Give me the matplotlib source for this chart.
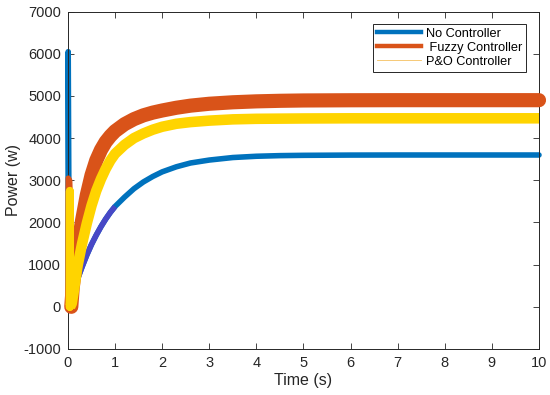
import numpy as np
import matplotlib
matplotlib.use("Agg")
import matplotlib.pyplot as plt
from matplotlib.lines import Line2D

plt.rcParams['font.family'] = ['Liberation Sans', 'DejaVu Sans']
plt.rcParams['axes.unicode_minus'] = False

# values (time in s, power in W)
no_ctrl_t = [0, 0.005, 0.03, 0.08, 0.12, 0.2, 0.3, 0.4, 0.5, 0.6, 0.7, 0.8, 0.9,
             1.0, 1.2, 1.4, 1.6, 1.8, 2.0, 2.3, 2.6, 3.0, 3.5, 4.0, 4.5, 5.0,
             6.0, 7.0, 10.0]
no_ctrl_p = [0, 6050, 0, 200, 380, 650, 950, 1230, 1480, 1700, 1900, 2080, 2240,
             2380, 2600, 2800, 2960, 3090, 3200, 3320, 3410, 3480, 3540, 3570,
             3585, 3592, 3598, 3600, 3600]

fuzzy_t = [0, 0.005, 0.035, 0.04, 0.06, 0.07, 0.1, 0.15, 0.2, 0.25, 0.3, 0.4,
           0.5, 0.6, 0.7, 0.8, 0.9, 1.0, 1.2, 1.4, 1.6, 1.8, 2.0, 2.3, 2.6, 3.0,
           3.5, 4.0, 4.5, 5.0, 6.0, 7.0, 10.0]
fuzzy_p = [0, 3050, 3000, 2800, 2750, 0, 450, 900, 1320, 1700, 2050, 2650,
           3120, 3470, 3720, 3910, 4050, 4165, 4330, 4450, 4540, 4605, 4655,
           4720, 4770, 4815, 4850, 4872, 4885, 4893, 4898, 4900, 4900]
fuzzy_rise = 5  # index where the thick rippled band starts

po_t = [0.035, 0.04, 0.045, 0.08, 0.12, 0.2, 0.3, 0.4, 0.5, 0.6, 0.7, 0.8, 0.9,
        1.0, 1.2, 1.4, 1.6, 1.8, 2.0, 2.3, 2.6, 3.0, 3.5, 4.0, 5.0, 6.0, 10.0]
po_p = [0, 2750, 0, 80, 350, 950, 1500, 1980, 2400, 2750, 3030, 3270, 3470,
        3630, 3840, 4000, 4110, 4200, 4270, 4340, 4380, 4415, 4445, 4458,
        4466, 4470, 4470]
po_rise = 2

labels = ['No Controller', ' Fuzzy Controller', 'P&O Controller']
x_ticks = list(range(0, 11))
y_ticks = list(range(-1000, 7001, 1000))

blue = '#0072BD'
orange = '#D95319'
yellow = '#FFD400'

fig = plt.figure(figsize=(5.5, 3.95), dpi=100)
ax = fig.add_axes([0.1236, 0.1165, 0.8564, 0.8541])

ax.plot(no_ctrl_t, no_ctrl_p, color=blue, lw=4.0, solid_capstyle='round',
        solid_joinstyle='round', clip_on=False, zorder=2)
# overlap artefact: the blue curve looks purple in its early rise
t_arr = np.array(no_ctrl_t)
seg = (t_arr >= 0.15) & (t_arr <= 1.0)
ax.plot(t_arr[seg], np.array(no_ctrl_p)[seg], color='#4848C6', lw=4.0,
        solid_capstyle='butt', solid_joinstyle='round', zorder=2.1)

# fuzzy: thin start-up spike, then the thick rippled band
ax.plot(fuzzy_t[:fuzzy_rise + 1], fuzzy_p[:fuzzy_rise + 1], color=orange, lw=4.0,
        solid_capstyle='butt', clip_on=False, zorder=3)
ax.plot(fuzzy_t[fuzzy_rise:], fuzzy_p[fuzzy_rise:], color=orange, lw=10.2,
        solid_capstyle='round', solid_joinstyle='round', clip_on=False, zorder=3)

ax.plot(po_t[:po_rise + 1], po_p[:po_rise + 1], color=yellow, lw=5.8,
        solid_capstyle='round', solid_joinstyle='round', clip_on=False, zorder=4)
ax.plot(po_t[po_rise:], po_p[po_rise:], color=yellow, lw=7.6,
        solid_capstyle='butt', solid_joinstyle='round', clip_on=False, zorder=4)

ax.set_xlim(0, 10)
ax.set_ylim(-1000, 7000)
ax.set_xticks(x_ticks)
ax.set_yticks(y_ticks)
ax.tick_params(direction='in', top=True, right=True, length=4, width=0.6,
               labelsize=10.5, colors='#262626', pad=5)
for sp in ax.spines.values():
    sp.set_linewidth(0.7)
    sp.set_color('#262626')
ax.set_xlabel('Time (s)', fontsize=11.5, color='#262626', labelpad=2)
ax.set_ylabel('Power (w)', fontsize=11.5, color='#262626', labelpad=2)

handles = [Line2D([], [], color=blue, lw=3.2),
           Line2D([], [], color=orange, lw=3.2),
           Line2D([], [], color='#F5C060', lw=0.6)]
leg = ax.legend(handles, labels, loc='upper right', bbox_to_anchor=(0.972, 0.963),
                fontsize=9.2, frameon=True, fancybox=False, framealpha=1,
                edgecolor='#262626', handlelength=3.4, borderpad=0.3,
                labelspacing=0.15, handletextpad=0.4, borderaxespad=0)
leg.get_frame().set_linewidth(0.7)

fig.savefig('out.png', dpi=100)
